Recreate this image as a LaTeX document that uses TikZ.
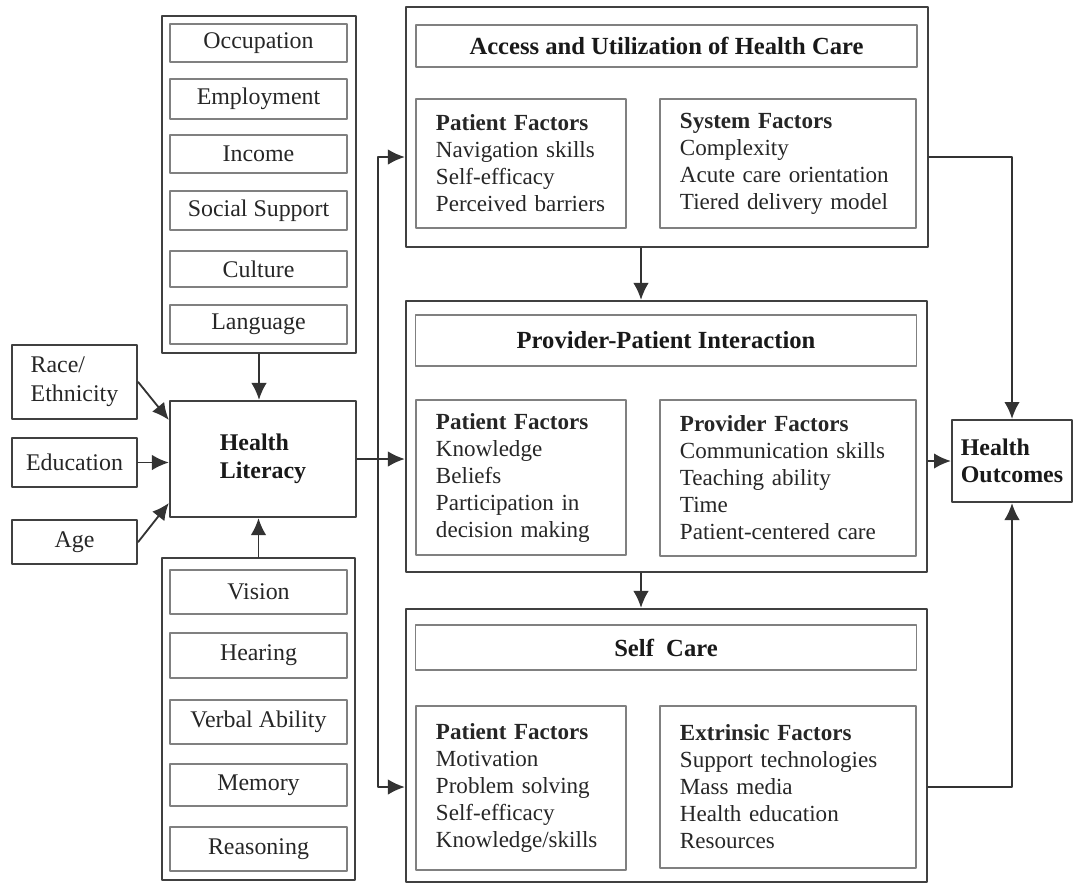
\documentclass[tikz,border=0pt]{standalone}
\usepackage{fontspec}
\setmainfont{Liberation Serif}
\usetikzlibrary{arrows.meta}

\begin{document}
\begin{tikzpicture}[x=0.025cm, y=-0.025cm, >={Latex[length=12pt,width=11pt]}, line cap=round, line join=round,
	outer/.style={draw=black!75, line width=1.6pt, inner sep=0pt},
	item/.style={draw=black!50, line width=1.1pt, inner sep=0pt, minimum width=4.425cm,
		text=black!85, font=\fontsize{17}{20}\selectfont},
	sidebox/.style={draw=black!75, line width=1.6pt, inner sep=0pt, minimum width=3.125cm,
		align=left, text=black!85, font=\fontsize{17}{20.6}\selectfont},
	keybox/.style={draw=black!75, line width=1.6pt, inner sep=0pt, align=left,
		text=black!90, font=\fontsize{17}{19.6}\selectfont\bfseries},
	titlebox/.style={draw=black!50, line width=1.1pt, inner sep=0pt, minimum width=12.525cm,
		text=black!90, font=\fontsize{17.5}{20}\selectfont\bfseries},
	factors/.style={draw=black!50, line width=1.1pt, inner xsep=0.5cm, inner ysep=0pt, align=left,
		text=black!85, font=\fontsize{16.4}{19.2}\selectfont},
	arr/.style={->, draw=black!80, line width=1.3pt},
	link/.style={draw=black!80, line width=1.3pt}]

\useasboundingbox (0,0) rectangle (1076,883);

% ==== Left: social factors ====
\node[outer, minimum width=4.85cm, minimum height=8.425cm] (soc) at (259,184.5) {};
\node[item, minimum height=0.95cm] (occ) at (258.5,43) {Occupation};
\node[item, minimum height=1cm] (emp) at (258.5,99) {Employment};
\node[item, minimum height=0.95cm] (inc) at (258.5,154) {Income};
\node[item, minimum height=0.975cm] (sup) at (258.5,210.5) {Social Support};
\node[item, minimum height=0.9cm] (cul) at (258.5,269) {Culture};
\node[item, minimum height=0.975cm] (lan) at (258.5,324.5) {Language};

% ==== Left: demographics + health literacy ====
\node[sidebox, minimum height=1.85cm] (race) at (74.5,382) {Race/\\Ethnicity};
\node[sidebox, minimum height=1.225cm] (edu) at (74.5,462.5) {Education};
\node[sidebox, minimum height=1.1cm] (age) at (74.5,542) {Age};
\node[keybox, minimum width=4.65cm, minimum height=2.9cm] (hl) at (263,459) {Health\\Literacy};

% ==== Left: cognitive / sensory ====
\node[outer, minimum width=4.825cm, minimum height=8.05cm] (cog) at (258.5,719) {};
\node[item, minimum height=1.1cm] (vis) at (258.5,592) {Vision};
\node[item, minimum height=1.125cm] (hea) at (258.5,655.5) {Hearing};
\node[item, minimum height=1.1cm] (ver) at (258.5,722) {Verbal Ability};
\node[item, minimum height=1.05cm] (mem) at (258.5,785) {Memory};
\node[item, minimum height=1.1cm] (rea) at (258.5,849) {Reasoning};

% ==== Right: access ====
\node[outer, minimum width=13.05cm, minimum height=6cm] (acc) at (667,127) {};
\node[titlebox, minimum height=1.05cm] (acctitle) at (666.5,46) {Access and Utilization of Health Care};
\node[factors, text width=4.25cm, minimum height=3.225cm] (accpat) at (521,163.5)
	{\textbf{Patient Factors}\\Navigation skills\\Self-efficacy\\Perceived barriers};
\node[factors, text width=5.4cm, minimum height=3.225cm] (accsys) at (788,163.5)
	{\textbf{System Factors}\\Complexity\\Acute care orientation\\Tiered delivery model};

% ==== Right: provider-patient ====
\node[outer, minimum width=13.025cm, minimum height=6.775cm] (pp) at (666.5,436.5) {};
\node[titlebox, minimum height=1.275cm] (pptitle) at (666,340.5) {Provider-Patient Interaction};
\node[factors, text width=4.25cm, minimum height=3.875cm] (pppat) at (521,477.5)
	{\textbf{Patient Factors}\\Knowledge\\Beliefs\\Participation in\\decision making};
\node[factors, text width=5.4cm, minimum height=3.9cm] (ppprov) at (788,478)
	{\textbf{Provider Factors}\\Communication skills\\Teaching ability\\Time\\Patient-centered care};

% ==== Right: self care ====
\node[outer, minimum width=13.025cm, minimum height=6.825cm] (sc) at (666.5,745.5) {};
\node[titlebox, minimum height=1.125cm] (sctitle) at (666,647.5) {Self\ \ Care};
\node[factors, text width=4.25cm, minimum height=4.1cm] (scpat) at (521,788)
	{\textbf{Patient Factors}\\Motivation\\Problem solving\\Self-efficacy\\Knowledge/skills};
\node[factors, text width=5.4cm, minimum height=4.05cm] (scext) at (788,787)
	{\textbf{Extrinsic Factors}\\Support technologies\\Mass media\\Health education\\Resources};

% outcome
\node[keybox, minimum width=3cm, minimum height=2.05cm] (ho) at (1012,461) {Health\\Outcomes};

% ==== connectors ====
\coordinate (fork) at (378,459);
\coordinate (rowA) at (0,157);
\coordinate (rowC) at (0,787);
\coordinate (colA) at (641,0);

\draw[arr] (soc.south) -- (soc.south |- hl.north);
\draw[arr] (cog.north) -- (cog.north |- hl.south);
\draw[arr] (race.east) -- ([yshift=0.975cm]hl.west);
\draw[arr] (edu.east) -- (edu.east -| hl.west);
\draw[arr] (age.east) -- ([yshift=-1.1cm]hl.west);

\draw[link] (hl.east) -- (fork);
\draw[arr] (fork) -- (fork -| pp.west);
\draw[arr] (fork) |- (acc.west |- rowA);
\draw[arr] (fork) |- (sc.west |- rowC);

\draw[arr] (acc.south -| colA) -- (pp.north -| colA);
\draw[arr] (pp.south -| colA) -- (sc.north -| colA);

\draw[arr] (acc.east |- rowA) -| (ho.north);
\draw[arr] (sc.east |- rowC) -| (ho.south);
\draw[arr] (pp.east |- ho.west) -- (ho.west);

\end{tikzpicture}
\end{document}
